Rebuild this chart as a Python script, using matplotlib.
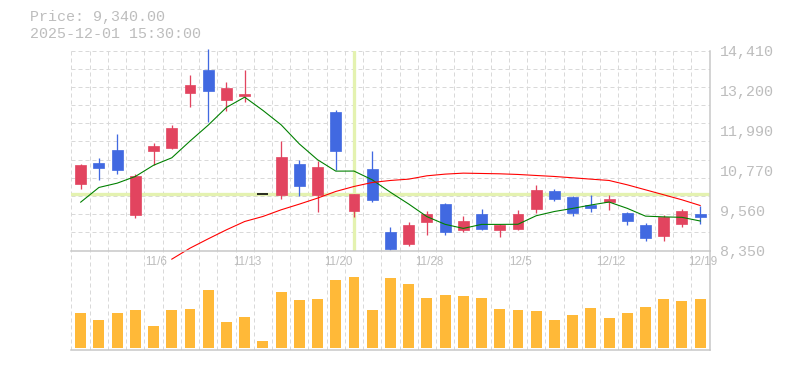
import numpy as np
import matplotlib
matplotlib.use("Agg")
import matplotlib.pyplot as plt
import matplotlib.transforms as mtransforms

# trading days shown on the chart
dates = ["10/30", "10/31", "11/4", "11/5", "11/6", "11/7", "11/10", "11/11",
         "11/12", "11/13", "11/14", "11/17", "11/18", "11/19", "11/20", "11/21",
         "11/25", "11/26", "11/27", "11/28", "12/1", "12/2", "12/3", "12/4",
         "12/5", "12/8", "12/9", "12/10", "12/11", "12/12", "12/15", "12/16",
         "12/17", "12/18", "12/19"]

opens = [10371, 11007, 11401, 9411, 11350, 11441, 13108, 13825, 12896, 13017,
         10058, 10017, 10977, 10038, 12532, 9532, 10825, 8896, 8553, 9199,
         9745, 8977, 9442, 8977, 9007, 9593, 10139, 9957, 9714, 9805,
         9472, 9108, 8775, 9139, 9442]
highs = [10977, 11159, 11886, 10654, 11603, 12148, 13674, 14470, 13461, 13825,
         10058, 11674, 11078, 11048, 12613, 10068, 11350, 9048, 9199, 9533,
         9785, 9401, 9613, 9159, 9583, 10320, 10199, 9987, 10017, 10017,
         9502, 9189, 9432, 9613, 9684]
lows = [10219, 10472, 10674, 9320, 10926, 11431, 12684, 12249, 12562, 12835,
        10058, 9896, 9987, 9502, 10795, 9351, 9815, 8371, 8472, 8826,
        8826, 8896, 8977, 8745, 8977, 9492, 9835, 9381, 9502, 9563,
        9108, 8624, 8644, 9068, 9139]
closes = [10947, 10835, 10775, 10593, 11522, 12068, 13371, 13189, 13280, 13078,
          10058, 11189, 10290, 10886, 11350, 10068, 9866, 8401, 9108, 9442,
          8896, 9250, 9007, 9108, 9462, 10189, 9896, 9472, 9623, 9916,
          9229, 8714, 9361, 9553, 9361]
volumes = [35000, 28000, 35000, 38000, 22000, 38000, 39000, 58000, 26000, 31000,
           7000, 56000, 48000, 49000, 68000, 71000, 38000, 70000, 64000, 50000,
           53000, 52000, 50000, 39000, 38000, 37000, 28000, 33000, 40000, 30000,
           35000, 41000, 49000, 47000, 49000]
ma5 = [9815, 10260, 10390, 10593, 10934, 11159, 11666, 12149, 12686, 12997,
       12595, 12159, 11579, 11100, 10755, 10757, 10492, 10114, 9759, 9377,
       9143, 9019, 9141, 9141, 9145, 9403, 9532, 9625, 9728, 9819,
       9627, 9391, 9369, 9355, 9244]
ma25 = [np.nan] * 5 + [8088, 8421, 8704, 8977, 9229, 9381, 9583, 9755, 9937, 10139,
                       10290, 10411, 10472, 10512, 10613, 10664, 10694, 10684, 10674, 10654,
                       10623, 10593, 10553, 10512, 10472, 10340, 10189, 10038, 9886, 9714]

price_ticks = [8350, 9560, 10770, 11990, 13200, 14410]
price_labels = ["8,350", "9,560", "10,770", "11,990", "13,200", "14,410"]
title_price = "Price: 9,340.00"
title_time = "2025-12-01 15:30:00"
cross_idx = 15
cross_price = 10058

UP = "#e2445f"
DOWN = "#4169e1"
VOL = "#ffb938"
GRID = "#d9d9d9"
SPINE = "#c6c6c6"
TEXT = "#bdbdbd"
CROSS = "#e4f2b0"
PX = 0.72  # one pixel in points at dpi 100

x = np.arange(len(dates))
ymin, ymax = price_ticks[0], price_ticks[-1]

fig = plt.figure(figsize=(7.85, 3.7), dpi=100)
ax = fig.add_axes([70.7 / 785, 119.5 / 370, 639.3 / 785, 200 / 370])
axv = fig.add_axes([70.7 / 785, 19.7 / 370, 639.3 / 785, 99.8 / 370])
# price panel on top so the unclipped MA line can run into the volume panel
ax.set_zorder(2)
ax.patch.set_visible(False)

for a in (ax, axv):
    a.set_xlim(-0.549, len(dates) - 1 + 0.54)
    for s in ("top", "left"):
        a.spines[s].set_visible(False)
    for s in ("right", "bottom"):
        a.spines[s].set_color(SPINE)
        a.spines[s].set_linewidth(1.5 * PX)
        a.spines[s].set_zorder(5)
    a.set_xticks([])
    # dashed vertical grid between bars plus the left border
    for gx in [-0.549] + [i + 0.5 for i in range(len(dates) - 1)]:
        a.axvline(gx, color=GRID, lw=PX, ls=(0, (4, 3)), zorder=0)

# price panel
ax.set_ylim(ymin, ymax)
step = (ymax - ymin) / 11
for k in range(1, 12):
    ax.axhline(ymin + k * step, color=GRID, lw=PX, ls=(0, (4, 3)), zorder=0)

ax.yaxis.tick_right()
ax.set_yticks(price_ticks)
ax.set_yticklabels(price_labels)
ax.tick_params(axis="y", length=0, pad=10 * PX, labelcolor=TEXT,
               labelsize=10.8)
for t in ax.get_yticklabels():
    t.set_family("Liberation Mono")

# crosshair
ax.axvline(cross_idx, color=CROSS, lw=3.3 * PX, zorder=1)
ax.axhline(cross_price, color=CROSS, lw=3.3 * PX, zorder=1)

for i in x:
    o, h, l, c = opens[i], highs[i], lows[i], closes[i]
    if c == o:
        ax.hlines(c, i - 0.3, i + 0.3, color="black", lw=1.6 * PX, zorder=3)
        continue
    col = UP if c > o else DOWN
    ax.vlines(i, l, h, color=col, lw=1.3 * PX, zorder=2, clip_on=False)
    ax.bar(i, abs(c - o), bottom=min(o, c), width=0.6, color=col,
           edgecolor=col, linewidth=0.5, zorder=3)

ax.plot(x, ma5, color="#008000", lw=1.1 * PX, zorder=4, clip_on=False)
ax.plot(x, ma25, color="#ff0000", lw=1.1 * PX, zorder=4, clip_on=False)

# volume panel
axv.set_ylim(-2300, 97500)
axv.set_yticks([])
axv.bar(x, volumes, width=0.6, color=VOL, zorder=2)

trans = mtransforms.blended_transform_factory(axv.transData, axv.transAxes)
for i in range(4, len(dates), 5):
    axv.text(i + 0.12, 0.888, dates[i], transform=trans, ha="center",
             va="center", color=TEXT, fontsize=8.4, family="Liberation Sans",
             zorder=6)

fig.text(30 / 785, 1 - 17.5 / 370, title_price, ha="left", va="center",
         color=TEXT, fontsize=10.8, family="Liberation Mono")
fig.text(30 / 785, 1 - 33.5 / 370, title_time, ha="left", va="center",
         color=TEXT, fontsize=10.8, family="Liberation Mono")

fig.savefig("out.png", dpi=100, facecolor="white")
